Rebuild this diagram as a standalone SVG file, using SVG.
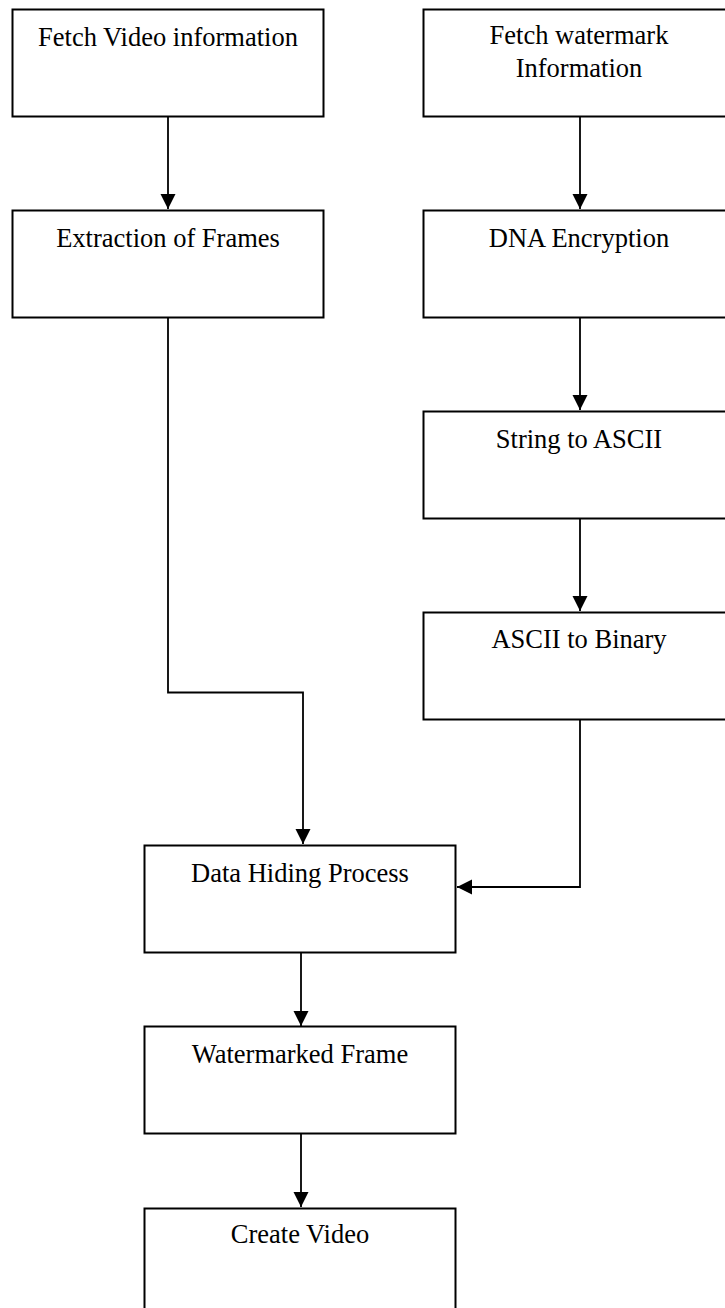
<svg xmlns="http://www.w3.org/2000/svg" width="725" height="1308" viewBox="0 0 725 1308">
<style>
.box{fill:#fff;stroke:#000;stroke-width:2}
.lbl{font-family:"Liberation Serif","Times New Roman",serif;font-size:26.5px;fill:#000;text-anchor:middle}
.con{fill:none;stroke:#000;stroke-width:1.8}
</style>
<defs>
<marker id="ah" markerUnits="userSpaceOnUse" markerWidth="16" markerHeight="16" viewBox="0 0 16 16" refX="15" refY="8" orient="auto">
<path d="M0,0.5 L15,8 L0,15.5 Z" fill="#000"/>
</marker>
</defs>
<rect width="725" height="1308" fill="#fff"/>
<g id="connectors">
<path class="con" d="M168,116.5 V209" marker-end="url(#ah)"/>
<path class="con" d="M580,116.5 V209" marker-end="url(#ah)"/>
<path class="con" d="M580,317.5 V410" marker-end="url(#ah)"/>
<path class="con" d="M580,518.5 V611" marker-end="url(#ah)"/>
<path class="con" d="M168,317.5 V692.5 H303 V844" marker-end="url(#ah)"/>
<path class="con" d="M580,719.5 V887 H457" marker-end="url(#ah)"/>
<path class="con" d="M301,952.5 V1026" marker-end="url(#ah)"/>
<path class="con" d="M301,1133.5 V1207" marker-end="url(#ah)"/>
</g>
<g id="fetch-video">
<rect class="box" x="12.5" y="9.5" width="311" height="107"/>
<text class="lbl" x="168" y="46">Fetch Video information</text>
</g>
<g id="fetch-watermark">
<rect class="box" x="423.5" y="9.5" width="311" height="107"/>
<text class="lbl" x="579" y="44">Fetch watermark</text>
<text class="lbl" x="579" y="77">Information</text>
</g>
<g id="extraction">
<rect class="box" x="12.5" y="210.5" width="311" height="107"/>
<text class="lbl" x="168" y="247">Extraction of Frames</text>
</g>
<g id="dna">
<rect class="box" x="423.5" y="210.5" width="311" height="107"/>
<text class="lbl" x="579" y="247">DNA Encryption</text>
</g>
<g id="string-ascii">
<rect class="box" x="423.5" y="411.5" width="311" height="107"/>
<text class="lbl" x="579" y="448">String to ASCII</text>
</g>
<g id="ascii-binary">
<rect class="box" x="423.5" y="612.5" width="311" height="107"/>
<text class="lbl" x="579" y="648">ASCII to Binary</text>
</g>
<g id="data-hiding">
<rect class="box" x="144.5" y="845.5" width="311" height="107"/>
<text class="lbl" x="300" y="882">Data Hiding Process</text>
</g>
<g id="watermarked-frame">
<rect class="box" x="144.5" y="1026.5" width="311" height="107"/>
<text class="lbl" x="300" y="1063">Watermarked Frame</text>
</g>
<g id="create-video">
<rect class="box" x="144.5" y="1208.5" width="311" height="107"/>
<text class="lbl" x="300" y="1243">Create Video</text>
</g>
</svg>
